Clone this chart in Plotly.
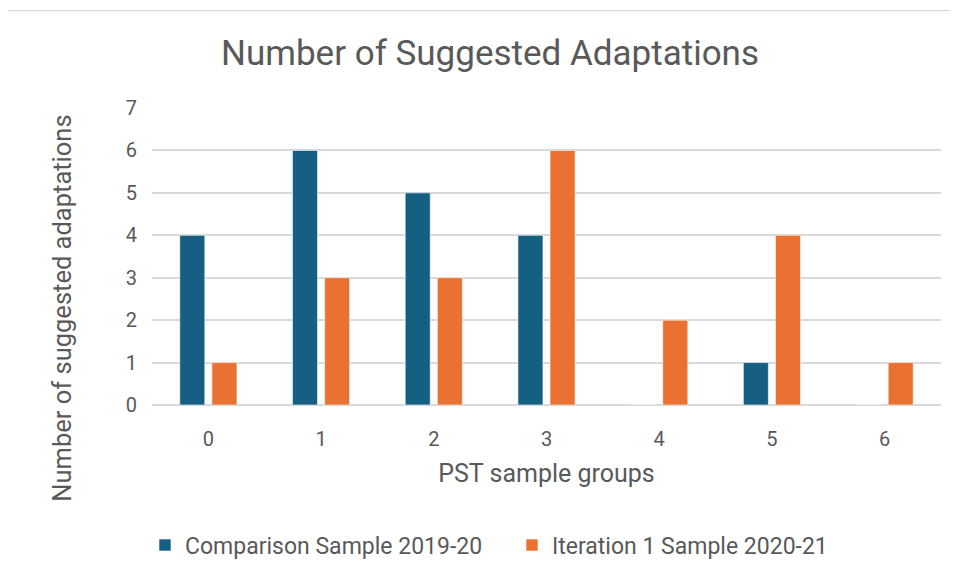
import plotly.graph_objects as go

categories = ["0", "1", "2", "3", "4", "5", "6"]
comparison = [4, 6, 5, 4, 0, 1, 0]
iteration = [1, 3, 3, 6, 2, 4, 1]
series_names = ["Comparison Sample 2019-20", "Iteration 1 Sample 2020-21"]
y_ticks = [0, 1, 2, 3, 4, 5, 6, 7]

BLUE = "#156082"
ORANGE = "#E97132"
TXT = "#595959"
GRID = "#D9D9D9"
FONT = "Roboto, 'Open Sans', sans-serif"

OFF = 8  # default page body margin
W, H = 958 - OFF, 578 - OFF
L, R, T, B = 152 - OFF, 17, 108 - OFF, 171
pw, ph = W - L - R, H - T - B


def px2x(px):
    return (px - OFF - L) / pw


def px2y(py):
    return (H - B - (py - OFF)) / ph


fig = go.Figure()
fig.add_trace(go.Bar(x=categories, y=comparison, name=series_names[0],
                     marker=dict(color=BLUE, line=dict(color="white", width=0.6))))
fig.add_trace(go.Bar(x=categories, y=iteration, name=series_names[1],
                     marker=dict(color=ORANGE, line=dict(color="white", width=0.6))))

fig.update_layout(
    width=W, height=H,
    margin=dict(l=L, r=R, t=T, b=B),
    paper_bgcolor="white", plot_bgcolor="white",
    barmode="group", bargap=0.43, bargroupgap=0.22,
    font=dict(family=FONT, color=TXT),
    title=dict(text="Number of Suggested Adaptations",
               font=dict(family=FONT, size=35, color=TXT),
               x=px2x(490), xref="paper", xanchor="center",
               y=1 - (53 - OFF) / H, yref="container", yanchor="middle"),
    xaxis=dict(type="category", tickfont=dict(size=20, color=TXT),
               showgrid=False, showline=False, ticks="", ticklabelstandoff=20,
               title=dict(text="PST sample groups", font=dict(size=25, color=TXT), standoff=14)),
    yaxis=dict(range=[0, 7], tickvals=y_ticks, tickfont=dict(size=20, color=TXT),
               showgrid=True, gridcolor=GRID, gridwidth=1.5,
               zeroline=True, zerolinecolor=GRID, zerolinewidth=1.5,
               showline=False, ticks="", ticklabelstandoff=14),
    annotations=[dict(text="Number of suggested adaptations", textangle=-90,
                      xref="paper", yref="paper", x=px2x(62), y=px2y(310),
                      xanchor="center", yanchor="middle", showarrow=False,
                      font=dict(size=25.5, color=TXT))],
    legend=dict(orientation="h", x=px2x(145), y=px2y(548), xanchor="left", yanchor="middle",
                font=dict(size=23, color=TXT), entrywidth=322, entrywidthmode="pixels",
                itemwidth=30, bgcolor="rgba(0,0,0,0)"),
    shapes=[dict(type="rect", xref="paper", yref="paper",
                 x0=px2x(5), x1=px2x(965), y0=px2y(590), y1=px2y(10),
                 line=dict(color=GRID, width=1.2), fillcolor="rgba(0,0,0,0)", layer="below")],
)

fig.write_html("out.html")
